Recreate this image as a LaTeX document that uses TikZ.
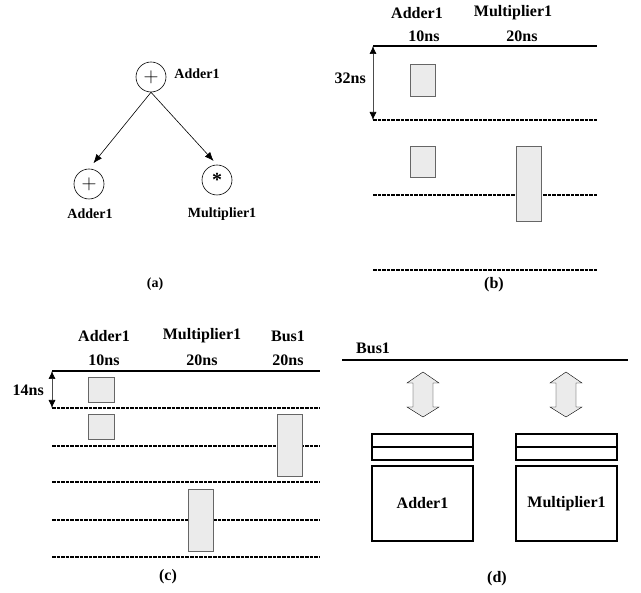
\documentclass[tikz,border=0pt]{standalone}
\usepackage{fontspec}
\setmainfont{Liberation Serif}
\usepackage{tikz}
\usetikzlibrary{calc,arrows.meta}

\tikzset{
  lbl/.style={inner sep=0pt, font=\bfseries\fontsize{16}{16}\selectfont},
  small lbl/.style={inner sep=0pt, font=\bfseries\fontsize{14}{14}\selectfont},
  opnode/.style={circle, draw, semithick, minimum size=30pt, inner sep=0pt, font=\fontsize{20}{20}\selectfont},
  slot/.style={rectangle, draw=black!60, fill=black!8, thick, inner sep=0pt},
  csline/.style={line width=1.7pt, dash pattern=on 3.6pt off 1pt},
  axis/.style={line width=1.4pt},
  flowarrow/.style={draw, semithick, -{Latex[length=9pt,width=7pt]}},
  timearrow/.style={draw=black!70, semithick, {Latex[length=8pt,width=7pt,color=black]}-{Latex[length=8pt,width=7pt,color=black]}},
  unitbox/.style={rectangle, draw, line width=1.4pt, inner sep=0pt}
}

\begin{document}
\begin{tikzpicture}[x=1pt, y=-1pt]
    \useasboundingbox (0,0) rectangle (641,593);

    % (a) data flow graph
    \node [opnode] (T) at (151,77) {$+$};
    \node [small lbl] (TL) at (197,74) {Adder1};
    \node [opnode] (L) at (89,184) {$+$};
    \node [opnode] (R) at (217,180) {\textbf{*}};
    \node [small lbl] (LL) at (90,214) {Adder1};
    \node [small lbl] (RL) at (222,214) {Multiplier1};
    \path [flowarrow, shorten >=7pt] (T.south) -- (L.north);
    \path [flowarrow, shorten >=5pt] (T.south) -- (R.north);
    \node [small lbl] (capa) at (155,284) {(a)};

    % (b) schedule, one adder and one multiplier
    \node [lbl] (bA) at (417,13) {Adder1};
    \node [lbl] (bM) at (513,13) {Multiplier1};
    \node [lbl] (bA10) at (424,36) {10ns};
    \node [lbl] (bM20) at (522,36) {20ns};
    \coordinate (b0) at (373,46);
    \coordinate (b0e) at (597,46);
    \path [draw, axis] (b0) -- (b0e);
    \foreach \i/\y in {1/120, 2/195, 3/270} {
        \coordinate (b\i) at (373,\y);
        \coordinate (b\i e) at (597,\y);
        \path [draw, csline] (b\i) -- (b\i e);
    }
    \path [timearrow] (b0) -- (b1);
    \node [lbl, anchor=east] (b32) at (366,78) {32ns};
    \node [slot, minimum width=25pt, minimum height=32pt] (bs1) at (422.5,80) {};
    \node [slot, minimum width=25pt, minimum height=31pt] (bs2) at (422.5,161.5) {};
    \node [slot, minimum width=25pt, minimum height=75pt] (bs3) at (528.5,183.5) {};
    \node [lbl] (capb) at (494,285) {(b)};

    % (c) schedule with bus transfer
    \node [lbl] (cA) at (104,336) {Adder1};
    \node [lbl] (cM) at (202,336) {Multiplier1};
    \node [lbl] (cB) at (288,336) {Bus1};
    \node [lbl] (cA10) at (104,360) {10ns};
    \node [lbl] (cM20) at (202,360) {20ns};
    \node [lbl] (cB20) at (288,360) {20ns};
    \coordinate (c0) at (52,371);
    \coordinate (c0e) at (320,371);
    \path [draw, axis] (c0) -- (c0e);
    \foreach \i/\y in {1/408, 2/446, 3/482, 4/520, 5/557} {
        \coordinate (c\i) at (52,\y);
        \coordinate (c\i e) at (320,\y);
        \path [draw, csline] (c\i) -- (c\i e);
    }
    \path [timearrow] (c0) -- (c1);
    \node [lbl, anchor=east] (c14) at (44,390) {14ns};
    \node [slot, minimum width=26pt, minimum height=25pt] (cs1) at (101,389.5) {};
    \node [slot, minimum width=26pt, minimum height=25pt] (cs2) at (101,426.5) {};
    \node [slot, minimum width=25pt, minimum height=62pt] (cs3) at (289.5,445) {};
    \node [slot, minimum width=25pt, minimum height=62pt] (cs4) at (200.5,520) {};
    \node [lbl] (capc) at (168,577) {(c)};

    % (d) units on the bus
    \node [lbl, anchor=west] (dB) at (356,348) {Bus1};
    \coordinate (d0) at (342,360);
    \coordinate (d0e) at (628,360);
    \path [draw, axis] (d0) -- (d0e);
    \foreach \x in {423,566} {
        \path [draw, fill=black!8] (\x,372) -- (\x+16,383) -- (\x+10,383) -- (\x+10,407)
            -- (\x+16,407) -- (\x,417) -- (\x-16,407) -- (\x-10,407) -- (\x-10,383)
            -- (\x-16,383) -- cycle;
    }
    \node [unitbox, minimum width=101pt, minimum height=26pt] (dr1) at (422.5,447) {};
    \node [unitbox, minimum width=101pt, minimum height=26pt] (dr2) at (566.5,447) {};
    \path [draw, line width=2.6pt] (dr1.west) -- (dr1.east);
    \path [draw, line width=2.6pt] (dr2.west) -- (dr2.east);
    \node [unitbox, lbl, minimum width=101pt, minimum height=75pt] (du1) at (422.5,503.5) {Adder1};
    \node [unitbox, lbl, minimum width=101pt, minimum height=75pt] (du2) at (566.5,503.5) {Multiplier1};
    \node [lbl] (capd) at (497,579) {(d)};
\end{tikzpicture}
\end{document}
